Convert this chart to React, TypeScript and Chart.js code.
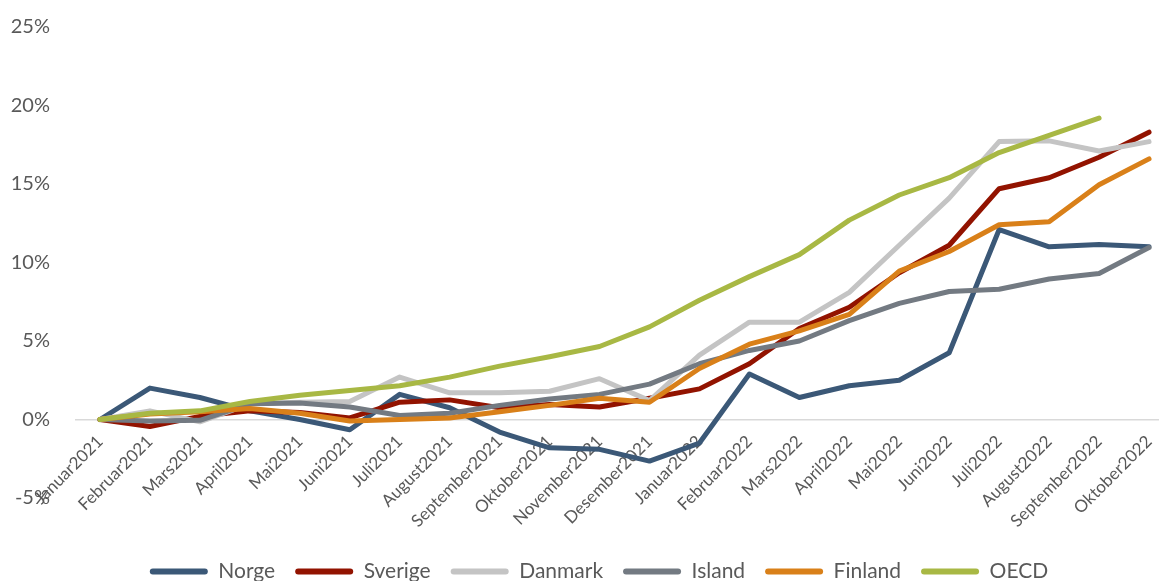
import React, { useEffect, useRef } from 'react';
import { Chart, registerables } from 'chart.js';

Chart.register(...registerables);

const months: string[] = [
  'Januar2021', 'Februar2021', 'Mars2021', 'April2021', 'Mai2021', 'Juni2021',
  'Juli2021', 'August2021', 'September2021', 'Oktober2021', 'November2021', 'Desember2021',
  'Januar2022', 'Februar2022', 'Mars2022', 'April2022', 'Mai2022', 'Juni2022',
  'Juli2022', 'August2022', 'September2022', 'Oktober2022',
];

const norge: (number | null)[] = [0, 2.0, 1.4, 0.55, 0.0, -0.65, 1.6, 0.75, -0.8, -1.8, -1.9, -2.65, -1.5, 2.9, 1.4, 2.15, 2.5, 4.25, 12.1, 11.0, 11.15, 11.0];
const sverige: (number | null)[] = [0, -0.45, 0.2, 0.55, 0.45, 0.1, 1.1, 1.25, 0.75, 0.95, 0.8, 1.35, 1.95, 3.55, 5.8, 7.15, 9.35, 11.1, 14.7, 15.4, 16.7, 18.3];
const danmark: (number | null)[] = [0, 0.55, -0.15, 1.0, 1.1, 1.15, 2.7, 1.7, 1.7, 1.8, 2.6, 1.2, 4.1, 6.2, 6.2, 8.1, 11.1, 14.1, 17.7, 17.75, 17.1, 17.7];
const island: (number | null)[] = [0, -0.1, -0.05, 1.0, 1.05, 0.8, 0.25, 0.4, 0.9, 1.3, 1.6, 2.25, 3.55, 4.4, 5.0, 6.3, 7.4, 8.15, 8.3, 8.95, 9.3, 10.95];
const finland: (number | null)[] = [0, 0.35, 0.5, 0.7, 0.4, -0.1, 0.0, 0.1, 0.5, 0.9, 1.35, 1.1, 3.25, 4.8, 5.65, 6.7, 9.45, 10.7, 12.4, 12.6, 14.95, 16.6];
const oecd: (number | null)[] = [0, 0.4, 0.55, 1.15, 1.55, 1.85, 2.15, 2.7, 3.4, 4.0, 4.65, 5.9, 7.6, 9.1, 10.5, 12.7, 14.3, 15.4, 17.0, 18.1, 19.2, null];

const seriesNames: string[] = ['Norge', 'Sverige', 'Danmark', 'Island', 'Finland', 'OECD'];
const seriesColors: string[] = ['#3B5877', '#921300', '#C4C4C4', '#737A82', '#D98019', '#A8B844'];
const seriesData = [norge, sverige, danmark, island, finland, oecd];

const yTicks: number[] = [-5, 0, 5, 10, 15, 20, 25];

const TEXT = '#595959';
const FONT = 'Lato, "Open Sans", sans-serif';

export default function App() {
  const ref = useRef<HTMLCanvasElement>(null);

  useEffect(() => {
    if (!ref.current) return;
    const n = seriesNames.length;
    const chart = new Chart(ref.current, {
      type: 'line',
      data: {
        labels: months,
        datasets: seriesNames.map((name, i) => ({
          label: name,
          data: seriesData[i],
          borderColor: seriesColors[i],
          backgroundColor: seriesColors[i],
          borderWidth: 5,
          pointRadius: 0,
          pointHoverRadius: 0,
          tension: 0,
          fill: false,
          order: n - i,
          borderCapStyle: 'round',
          borderJoinStyle: 'round',
        })),
      },
      options: {
        responsive: false,
        animation: false,
        layout: { padding: { left: 4, right: 6, top: 5, bottom: 5 } },
        scales: {
          x: {
            type: 'category',
            offset: true,
            position: { y: 0 } as any,
            grid: { display: false },
            border: { display: false },
            ticks: {
              autoSkip: false,
              minRotation: 45,
              maxRotation: 45,
              color: TEXT,
              padding: 4,
              font: { family: FONT, size: 17 },
            },
          },
          xPad: {
            type: 'category',
            position: 'bottom',
            grid: { display: false },
            border: { display: false },
            ticks: { display: false },
            afterFit: (s: any) => { s.height = 43; },
          },
          y: {
            min: -5,
            max: 25,
            afterBuildTicks: (s: any) => { s.ticks = yTicks.map((v) => ({ value: v })); },
            afterFit: (s: any) => { s.width = 71; },
            grid: {
              drawTicks: false,
              lineWidth: 1.5,
              color: (ctx: any) => (ctx.tick && ctx.tick.value === 0 ? '#D9D9D9' : 'rgba(0,0,0,0)'),
            },
            border: { display: false },
            ticks: {
              padding: 25,
              color: TEXT,
              font: { family: FONT, size: 20 },
              callback: (v: any) => `${v}%`,
            },
          },
          yPad: {
            position: 'right',
            grid: { display: false },
            border: { display: false },
            ticks: { display: false },
            afterFit: (s: any) => { s.width = 20; },
          },
        },
        plugins: {
          tooltip: { enabled: false },
          legend: {
            position: 'bottom',
            labels: {
              sort: (a: any, b: any) => a.datasetIndex - b.datasetIndex,
              boxWidth: 58,
              boxHeight: 6,
              padding: 20,
              color: TEXT,
              useBorderRadius: true,
              borderRadius: 3,
              font: { family: FONT, size: 21 },
              generateLabels: (c: any) =>
                Chart.defaults.plugins.legend.labels.generateLabels(c).map((l: any) => ({ ...l, lineWidth: 0 })),
            },
          },
        },
      } as any,
    });
    return () => chart.destroy();
  }, []);

  return (
    <div style={{ position: 'fixed', left: 0, top: 0, width: 1159, height: 581, overflow: 'hidden', background: '#fff' }}>
      <canvas ref={ref} width={1200} height={607} style={{ display: 'block', position: 'relative', top: -10 }} />
    </div>
  );
}
